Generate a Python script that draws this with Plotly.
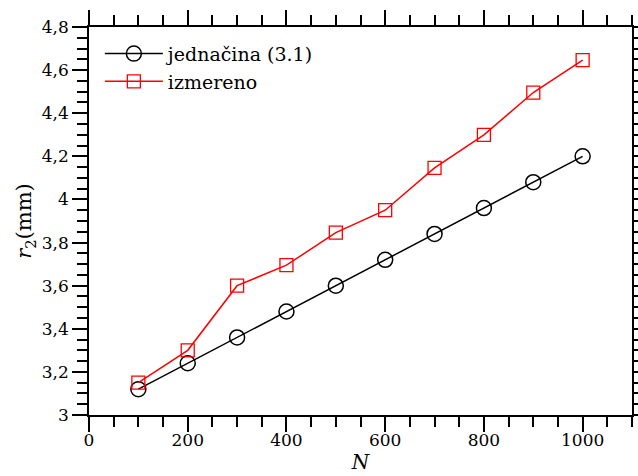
import plotly.graph_objects as go

N = [100, 200, 300, 400, 500, 600, 700, 800, 900, 1000]
r2_eq = [3.12, 3.24, 3.36, 3.48, 3.60, 3.72, 3.84, 3.96, 4.08, 4.20]
r2_meas = [3.15, 3.30, 3.60, 3.695, 3.846, 3.95, 4.146, 4.30, 4.496, 4.646]

x_tickvals = [0, 200, 400, 600, 800, 1000]
x_ticktext = ["0", "200", "400", "600", "800", "1000"]
y_tickvals = [3.0, 3.2, 3.4, 3.6, 3.8, 4.0, 4.2, 4.4, 4.6, 4.8]
y_ticktext = ["3", "3,2", "3,4", "3,6", "3,8", "4", "4,2", "4,4", "4,6", "4,8"]

FONT = "DejaVu Serif"

fig = go.Figure()
fig.add_trace(go.Scatter(
    x=N, y=r2_eq, mode="lines+markers", name="jednačina (3.1)",
    line=dict(color="black", width=1.5),
    marker=dict(symbol="circle-open", size=15, color="black", line=dict(width=1.5)),
))
fig.add_trace(go.Scatter(
    x=N, y=r2_meas, mode="lines+markers", name="izmereno",
    line=dict(color="#ff0000", width=1.5),
    marker=dict(symbol="square-open", size=13, color="#ff0000", line=dict(width=1.3)),
))

axis_common = dict(
    showline=True, linecolor="black", linewidth=1.5,
    mirror="allticks", ticks="outside", ticklen=15, tickwidth=1.5, tickcolor="black",
    showgrid=False, zeroline=False, automargin=False,
    tickfont=dict(family=FONT, size=17, color="black"),
)

fig.update_layout(
    width=638, height=476,
    margin=dict(l=89, r=6, t=27, b=61, autoexpand=False),
    paper_bgcolor="white", plot_bgcolor="white",
    font=dict(family=FONT, size=17, color="black"),
    showlegend=True,
    legend=dict(x=0.02, y=0.98, xanchor="left", yanchor="top",
                itemwidth=58,
                bgcolor="rgba(0,0,0,0)", borderwidth=0,
                font=dict(family=FONT, size=19, color="black")),
    xaxis=dict(range=[0, 1100], tickvals=x_tickvals, ticktext=x_ticktext,
               ticklabelstandoff=-6,
               minor=dict(ticks="outside", ticklen=10, tickwidth=1.5, tickcolor="black", dtick=50, tick0=0, showgrid=False),
               title=dict(text="<i>N</i>", standoff=2, font=dict(family=FONT, size=20)),
               **axis_common),
    yaxis=dict(range=[3, 4.8], tickvals=y_tickvals, ticktext=y_ticktext,
               minor=dict(ticks="outside", ticklen=10, tickwidth=1.5, tickcolor="black", dtick=0.05, tick0=3, showgrid=False),
               title=dict(text="<i>r</i><sub>2</sub>(mm)", standoff=4, font=dict(family=FONT, size=21)),
               **axis_common),
)

fig.write_html("out.html")
